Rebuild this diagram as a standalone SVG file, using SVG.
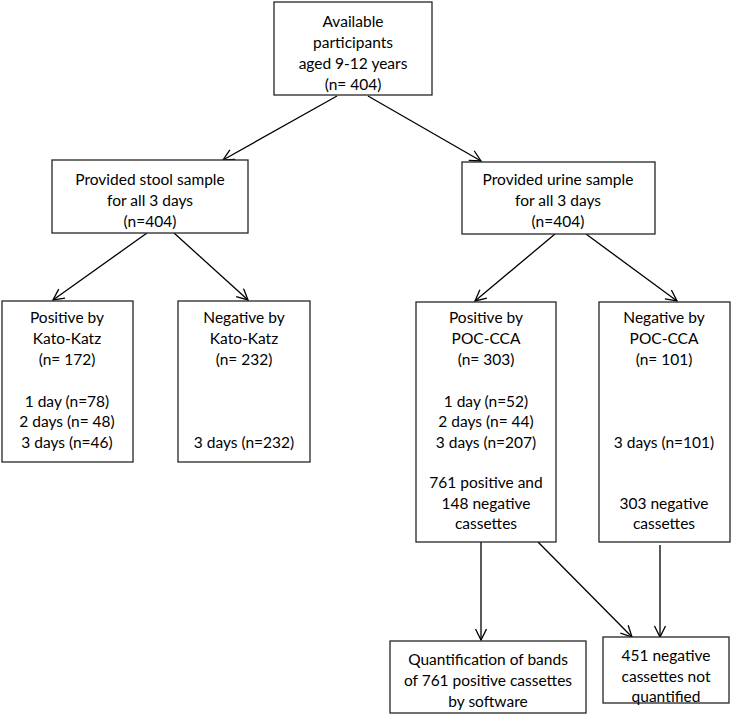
<svg xmlns="http://www.w3.org/2000/svg" width="732" height="716" viewBox="0 0 732 716">
<style>
  .box { fill: #ffffff; stroke: #262626; stroke-width: 1.3; }
  .t { font-family: Lato, "Open Sans", "Liberation Sans", sans-serif; font-size: 15.5px; fill: #000; text-anchor: middle; }
  .c { stroke: #000; stroke-width: 1.3; fill: none; marker-end: url(#ah); }
</style>
<defs>
  <marker id="ah" markerUnits="userSpaceOnUse" markerWidth="14" markerHeight="14" refX="12" refY="6" orient="auto">
    <path d="M1,0.5 L12,6 L1,11.5" fill="none" stroke="#000" stroke-width="1.3"/>
  </marker>
</defs>
<rect width="732" height="716" fill="#ffffff"/>
<g id="connectors">
  <line class="c" x1="337" y1="96" x2="223" y2="160"/>
  <line class="c" x1="368" y1="96" x2="481" y2="161"/>
  <line class="c" x1="147" y1="233" x2="53" y2="300"/>
  <line class="c" x1="174" y1="233" x2="248" y2="300"/>
  <line class="c" x1="555" y1="234" x2="475" y2="301"/>
  <line class="c" x1="586" y1="234" x2="677" y2="301"/>
  <line class="c" x1="481" y1="542" x2="481" y2="640"/>
  <line class="c" x1="538" y1="542" x2="632" y2="637"/>
  <line class="c" x1="660" y1="545" x2="660" y2="637"/>
</g>
<g id="n_available">
  <rect class="box" x="274" y="2" width="158" height="93"/>
  <text class="t" x="353" y="27">Available</text>
  <text class="t" x="353" y="48">participants</text>
  <text class="t" x="353" y="69">aged 9-12 years</text>
  <text class="t" x="353" y="90">(n= 404)</text>
</g>
<g id="n_stool">
  <rect class="box" x="52" y="160" width="196" height="73"/>
  <text class="t" x="150" y="185">Provided stool sample</text>
  <text class="t" x="150" y="206">for all 3 days</text>
  <text class="t" x="150" y="227">(n=404)</text>
</g>
<g id="n_urine">
  <rect class="box" x="462" y="162" width="193" height="72"/>
  <text class="t" x="558" y="185">Provided urine sample</text>
  <text class="t" x="558" y="206">for all 3 days</text>
  <text class="t" x="558" y="227">(n=404)</text>
</g>
<g id="n_pos_kk">
  <rect class="box" x="2" y="301" width="131" height="161"/>
  <text class="t" x="67" y="323">Positive by</text>
  <text class="t" x="67" y="344">Kato-Katz</text>
  <text class="t" x="67" y="365">(n= 172)</text>
  <text class="t" x="67" y="407">1 day (n=78)</text>
  <text class="t" x="67" y="427">2 days (n= 48)</text>
  <text class="t" x="67" y="448">3 days (n=46)</text>
</g>
<g id="n_neg_kk">
  <rect class="box" x="178" y="301" width="132" height="161"/>
  <text class="t" x="244" y="323">Negative by</text>
  <text class="t" x="244" y="344">Kato-Katz</text>
  <text class="t" x="244" y="365">(n= 232)</text>
  <text class="t" x="244" y="448">3 days (n=232)</text>
</g>
<g id="n_pos_poc">
  <rect class="box" x="416" y="302" width="140" height="240"/>
  <text class="t" x="486" y="323">Positive by</text>
  <text class="t" x="486" y="344">POC-CCA</text>
  <text class="t" x="486" y="365">(n= 303)</text>
  <text class="t" x="486" y="407">1 day (n=52)</text>
  <text class="t" x="486" y="427">2 days (n= 44)</text>
  <text class="t" x="486" y="448">3 days (n=207)</text>
  <text class="t" x="486" y="488">761 positive and</text>
  <text class="t" x="486" y="509">148 negative</text>
  <text class="t" x="486" y="529">cassettes</text>
</g>
<g id="n_neg_poc">
  <rect class="box" x="599" y="302" width="131" height="240"/>
  <text class="t" x="664" y="323">Negative by</text>
  <text class="t" x="664" y="344">POC-CCA</text>
  <text class="t" x="664" y="365">(n= 101)</text>
  <text class="t" x="664" y="448">3 days (n=101)</text>
  <text class="t" x="664" y="509">303 negative</text>
  <text class="t" x="664" y="529">cassettes</text>
</g>
<g id="n_quant">
  <rect class="box" x="390" y="641" width="196" height="72"/>
  <text class="t" x="488" y="665">Quantification of bands</text>
  <text class="t" x="488" y="686">of 761 positive cassettes</text>
  <text class="t" x="488" y="707">by software</text>
</g>
<g id="n_notquant">
  <rect class="box" x="603" y="637" width="126" height="66"/>
  <text class="t" x="666" y="661">451 negative</text>
  <text class="t" x="666" y="682">cassettes not</text>
  <text class="t" x="666" y="702">quantified</text>
</g>
</svg>
